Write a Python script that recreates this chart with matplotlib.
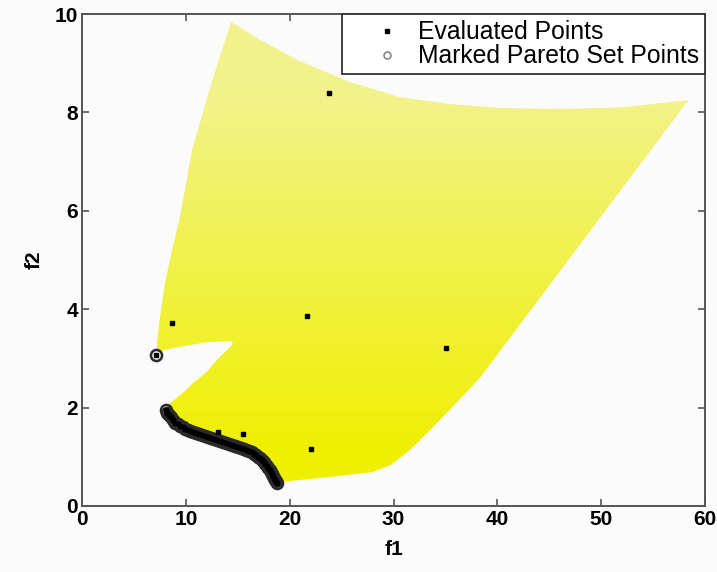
import numpy as np
import matplotlib
matplotlib.use("Agg")
import matplotlib.pyplot as plt
from matplotlib.patches import Polygon
from matplotlib.colors import LinearSegmentedColormap

# Outline of the attainable objective region (f1, f2), traced clockwise
region_f1 = [14.35, 17.1, 21.0, 25.8, 30.6, 35.4, 40.3, 46.0, 51.8, 58.4,
             38.3, 35.4, 33.5, 31.6, 29.7, 28.0, 23.9, 19.1,
             18.78, 18.59, 18.40, 18.20, 17.91, 17.62, 17.34, 16.95, 16.57,
             16.08, 15.60, 15.02, 14.45, 13.87, 13.29, 12.71, 12.14, 11.56,
             10.98, 10.40, 9.92, 9.44, 8.96, 8.57, 8.28, 8.09,
             9.73, 10.7, 12.0, 13.0, 13.96, 14.5, 14.45, 12.0, 10.4, 8.76, 7.22,
             7.22, 7.51, 7.99, 8.67, 9.44, 10.6, 12.4]
region_f2 = [9.84, 9.48, 9.04, 8.62, 8.31, 8.17, 8.09, 8.07, 8.10, 8.25,
             2.60, 1.95, 1.54, 1.14, 0.83, 0.69, 0.59, 0.49,
             0.52, 0.58, 0.66, 0.74, 0.82, 0.90, 0.98, 1.05, 1.11,
             1.17, 1.21, 1.25, 1.29, 1.33, 1.37, 1.41, 1.45, 1.49,
             1.53, 1.57, 1.62, 1.68, 1.74, 1.82, 1.90, 2.02,
             2.30, 2.50, 2.72, 2.97, 3.17, 3.29, 3.35, 3.33, 3.27, 3.21, 3.13,
             3.31, 3.84, 4.53, 5.20, 5.87, 7.24, 8.55]

# Marked Pareto set points
pareto_f1 = [7.13, 8.09, 8.20, 8.37, 8.57, 8.76, 8.96, 9.20, 9.44, 9.68,
             9.92, 10.16, 10.40, 10.69, 10.98, 11.27, 11.56, 11.85, 12.14,
             12.42, 12.71, 13.00, 13.29, 13.58, 13.87, 14.16, 14.45, 14.74,
             15.02, 15.31, 15.60, 15.84, 16.08, 16.33, 16.57, 16.76, 16.95,
             17.15, 17.34, 17.48, 17.62, 17.77, 17.91, 18.06, 18.20, 18.30,
             18.40, 18.50, 18.59, 18.69, 18.78]
pareto_f2 = [3.07, 1.95, 1.90, 1.85, 1.80, 1.74, 1.69, 1.66, 1.63, 1.60,
             1.57, 1.54, 1.52, 1.50, 1.48, 1.46, 1.44, 1.42, 1.40,
             1.38, 1.36, 1.34, 1.32, 1.30, 1.28, 1.26, 1.24, 1.22,
             1.20, 1.18, 1.16, 1.14, 1.12, 1.09, 1.06, 1.03, 1.00,
             0.97, 0.93, 0.89, 0.85, 0.81, 0.77, 0.73, 0.69, 0.65,
             0.61, 0.57, 0.53, 0.50, 0.47]

# Other evaluated points scattered inside the region
eval_f1 = [23.8, 8.67, 21.7, 35.1, 15.5, 13.1, 22.1]
eval_f2 = [8.39, 3.72, 3.86, 3.21, 1.46, 1.50, 1.16]

x_ticks = [0, 10, 20, 30, 40, 50, 60]
y_ticks = [0, 2, 4, 6, 8, 10]

bg = "#fbfbfb"
fig = plt.figure(figsize=(7.17, 5.72), dpi=100, facecolor=bg)
ax = fig.add_axes([0.1144, 0.1154, 0.8689, 0.8601], facecolor=bg)

# Region fill: saturated yellow near the bottom, paler towards the top
poly = Polygon(np.column_stack([region_f1, region_f2]), closed=True,
               facecolor="none", edgecolor="none")
ax.add_patch(poly)
cmap = LinearSegmentedColormap.from_list(
    "yel", [(0.94, 0.94, 0.0), (0.945, 0.945, 0.28), (0.95, 0.95, 0.55)])
yy = np.linspace(0, 10, 200)[:, None] * np.ones((1, 10))
shade = np.clip((yy - 1.0) / 7.5, 0, 1)
img = ax.imshow(shade, extent=[0, 60, 0, 10], origin="lower", cmap=cmap,
                vmin=0, vmax=1, aspect="auto", interpolation="bilinear",
                zorder=1)
img.set_clip_path(poly)

all_f1 = eval_f1 + pareto_f1
all_f2 = eval_f2 + pareto_f2
ax.plot(pareto_f1, pareto_f2, linestyle="none", marker="o", ms=8,
        mfc="none", mec="#2a2a2a", mew=1.8, zorder=3)
ax.plot(all_f1, all_f2, linestyle="none", marker="s", ms=3.2,
        color="black", mec="black", zorder=4)

# Legend entries
h_eval, = ax.plot([], [], linestyle="none", marker="s", ms=3, color="black",
                  label="Evaluated Points")
h_par, = ax.plot([], [], linestyle="none", marker="o", ms=5, mfc="none",
                 mec="#888888", mew=1.2, label="Marked Pareto Set Points")
leg = ax.legend(handles=[h_eval, h_par], loc="upper right",
                borderaxespad=0, fancybox=False, framealpha=1,
                edgecolor="#333333", facecolor="white",
                prop={"family": "Liberation Sans", "size": 17.8},
                borderpad=0.25, labelspacing=0.0, handlelength=3.1,
                handletextpad=-0.3)
leg.get_frame().set_linewidth(1.3)
leg.set_zorder(10)

ax.set_xlim(0, 60)
ax.set_ylim(0, 10)
ax.set_xticks(x_ticks)
ax.set_yticks(y_ticks)
ax.set_xticklabels([str(v) for v in x_ticks])
ax.set_yticklabels([str(v) for v in y_ticks])
tick_font = {"family": "Liberation Sans", "size": 15, "weight": "bold"}
for lab in ax.get_xticklabels() + ax.get_yticklabels():
    lab.set_fontfamily(tick_font["family"])
    lab.set_fontsize(tick_font["size"])
    lab.set_fontweight(tick_font["weight"])
ax.tick_params(direction="in", length=5, width=1.2, color="#555555",
               top=True, right=True, pad=3)
for s in ax.spines.values():
    s.set_color("#555555")
    s.set_linewidth(1.4)

ax.set_xlabel("f1", fontdict=tick_font, labelpad=8)
ax.set_ylabel("f2", fontdict=tick_font, labelpad=8)

fig.savefig("out.png", dpi=100, facecolor=bg)
